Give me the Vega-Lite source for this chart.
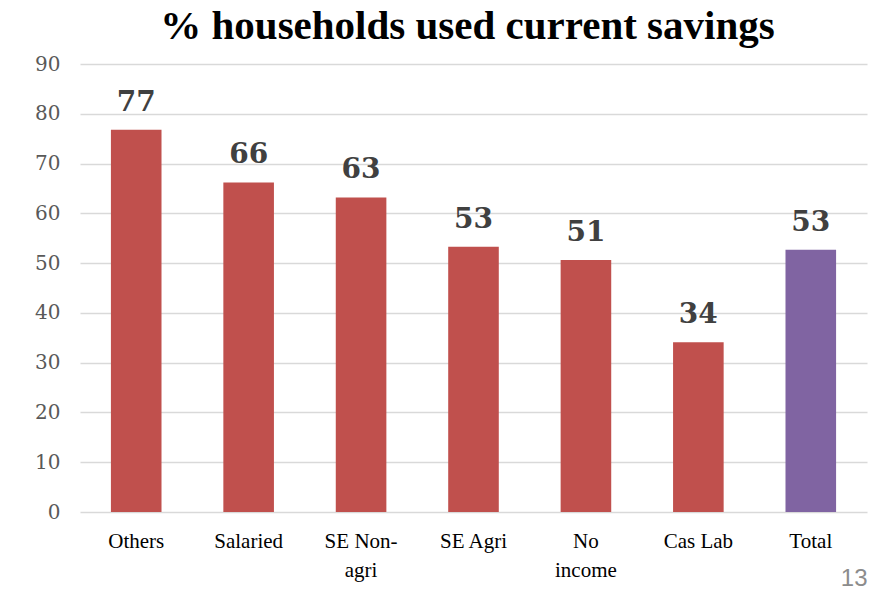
{
  "$schema": "https://vega.github.io/schema/vega-lite/v6.json",
  "width": 787,
  "height": 448,
  "autosize": {"type": "none"},
  "padding": {"left": 80, "top": 64, "right": 17, "bottom": 85},
  "background": "white",
  "title": {
    "text": "% households used current savings",
    "font": "Liberation Serif",
    "fontWeight": "bold",
    "fontSize": 41,
    "color": "black",
    "anchor": "middle",
    "dx": -6,
    "offset": 6
  },
  "data": {
    "values": [
      {"category": "Others", "value": 76.8, "group": "cat"},
      {"category": "Salaried", "value": 66.2, "group": "cat"},
      {"category": "SE Non-agri", "value": 63.2, "group": "cat"},
      {"category": "SE Agri", "value": 53.3, "group": "cat"},
      {"category": "No income", "value": 50.6, "group": "cat"},
      {"category": "Cas Lab", "value": 34.1, "group": "cat"},
      {"category": "Total", "value": 52.7, "group": "total"}
    ]
  },
  "encoding": {
    "x": {
      "field": "category",
      "type": "nominal",
      "sort": null,
      "scale": {"paddingInner": 0.55, "paddingOuter": 0.275},
      "axis": {
        "title": "13",
        "titleAnchor": "end",
        "titleFont": "Liberation Sans",
        "titleFontWeight": "normal",
        "titleFontSize": 24,
        "titleColor": "#8C8C8C",
        "titlePadding": -14,
        "labelAngle": 0,
        "ticks": false,
        "domain": false,
        "labelFont": "Liberation Serif",
        "labelFontSize": 21,
        "labelColor": "black",
        "labelPadding": 18,
        "labelLineHeight": 29,
        "labelExpr": "datum.label == 'SE Non-agri' ? ['SE Non-', 'agri'] : datum.label == 'No income' ? ['No', 'income'] : datum.label"
      }
    },
    "y": {
      "field": "value",
      "type": "quantitative",
      "scale": {"domain": [0, 90]},
      "axis": {
        "title": null,
        "values": [0, 10, 20, 30, 40, 50, 60, 70, 80, 90],
        "ticks": false,
        "domain": false,
        "grid": true,
        "gridColor": "#D9D9D9",
        "gridWidth": 1.5,
        "labelFont": "DejaVu Serif",
        "labelFontSize": 20,
        "labelColor": "#595959",
        "labelPadding": 20
      }
    }
  },
  "layer": [
    {
      "mark": {"type": "bar"},
      "encoding": {
        "color": {
          "field": "group",
          "type": "nominal",
          "scale": {"domain": ["cat", "total"], "range": ["#C0504D", "#8064A2"]},
          "legend": null
        }
      }
    },
    {
      "mark": {
        "type": "text",
        "baseline": "alphabetic",
        "dy": -19,
        "font": "DejaVu Serif",
        "fontWeight": "bold",
        "fontSize": 28,
        "color": "#404040"
      },
      "encoding": {
        "text": {"field": "value", "type": "quantitative", "format": ".0f"}
      }
    }
  ],
  "config": {"view": {"stroke": null}}
}
